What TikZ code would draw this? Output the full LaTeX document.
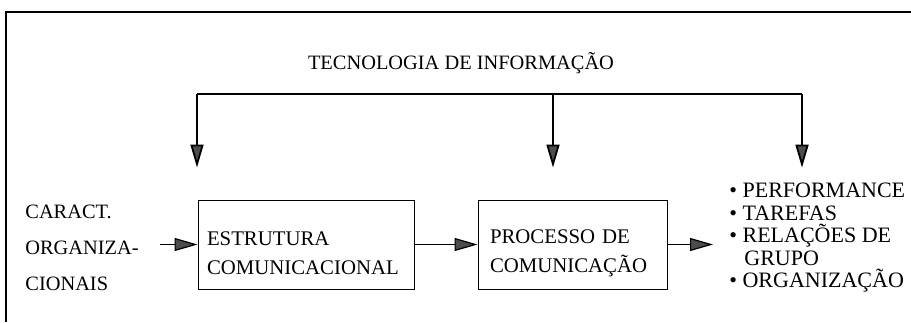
\documentclass[tikz,border=0pt]{standalone}
\usepackage{fontspec}
\setmainfont{Liberation Serif}
\usepackage{tikz}
\usetikzlibrary{arrows.meta}
\usetikzlibrary{positioning}
\tikzset{seta/.style = {-{Triangle[length=11.5pt, width=6.5pt, fill=cinzaseta]}},
         caixa/.style = {draw, line width=0.5pt, align=left, inner xsep=4.5pt, text height=15.3pt,
                         minimum height=44.5pt, font=\fontsize{10.4}{14.5}\selectfont},
         rotulo/.style = {inner sep=0pt, align=left, font=\fontsize{10.2}{18}\selectfont}}
\definecolor{cinzaseta}{rgb}{0.3, 0.3, 0.3}

\begin{document}
\begin{tikzpicture}[x=0.5pt, y=0.5pt]
    \useasboundingbox (0, 0) rectangle (911, 322);
    \draw [line width=0.7pt] (6, 0) -- (6, 310) -- (911, 310); % moldura

    \node [rotulo, anchor=base] (titulo) at (461, 252) {TECNOLOGIA DE INFORMAÇÃO};
    \node [rotulo, anchor=base west] (caract) at (25, 32) {CARACT.\\ORGANIZA-\\CIONAIS};
    \node [caixa, text width=99pt] (estrutura) at (306, 77.5) {ESTRUTURA\\COMUNICACIONAL};
    \node [caixa, text width=82.5pt, inner xsep=6pt] (processo) at (572.5, 77.5) {PROCESSO DE\\COMUNICAÇÃO};
    \node [rotulo, anchor=base west, font=\fontsize{11}{11.3}\selectfont] (efeitos) at (729, 34)
        {• PERFORMANCE\\• TAREFAS\\• RELAÇÕES DE\\\hspace*{7.5pt}GRUPO\\• ORGANIZAÇÃO};

    \coordinate (ti1) at (197, 228);
    \coordinate (ti2) at (553, 228);
    \coordinate (ti3) at (802, 228);
    \draw [line width=0.9pt] (ti1) -- (ti3);
    \draw [seta, line width=0.9pt, shorten >=16pt] (ti1) -- (ti1 |- estrutura.north);
    \draw [seta, line width=0.9pt, shorten >=16pt] (ti2) -- (ti2 |- processo.north);
    \draw [seta, line width=0.9pt, shorten >=7.5pt] (ti3) -- (ti3 |- efeitos.north);

    \draw [seta, line width=0.6pt, shorten <=10.5pt] (caract.east |- estrutura.west) -- (estrutura.west);
    \draw [seta, line width=0.6pt] (estrutura.east) -- (processo.west);
    \draw [seta, line width=0.6pt, shorten >=8pt] (processo.east) -- (processo.east -| efeitos.west);
\end{tikzpicture}
\end{document}
